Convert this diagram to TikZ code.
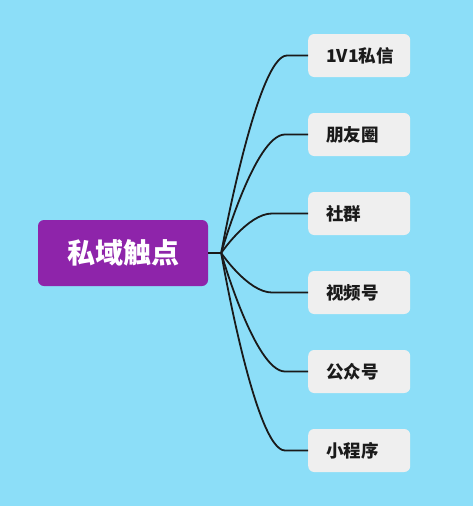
\documentclass[tikz,border=0pt]{standalone}
\usepackage{fontspec}
\setmainfont{Noto Sans CJK SC}
\usetikzlibrary{calc}
\usetikzlibrary{positioning}
\definecolor{himmel}{HTML}{8CDEF8}
\definecolor{lila}{HTML}{8E24AA}
\definecolor{hellgrau}{HTML}{EFEFEF}
\definecolor{tinte}{HTML}{1A1A1A}
\tikzset{
	wurzel/.style = {rectangle, rounded corners=6pt, fill=lila, text=white,
		minimum width=170pt, minimum height=66pt, inner sep=0pt,
		font=\fontsize{28}{32}\selectfont\bfseries},
	kanal/.style = {rectangle, rounded corners=6pt, fill=hellgrau, text=tinte,
		minimum width=102pt, minimum height=43pt, inner xsep=18pt, inner ysep=0pt,
		text width=66pt, align=left, anchor=west,
		font=\fontsize{17.5}{20}\selectfont\bfseries},
	ast/.style = {draw=tinte, line width=1.8pt}
	}

\begin{document}
\begin{tikzpicture}
		[x=1pt, y=-1pt]
		\fill[himmel] (0,0) rectangle (473,506);
		\useasboundingbox (0,0) rectangle (473,506);

		\node[wurzel] (siyu) at (123,253) {私域触点};

		\foreach \i/\y/\txt in {1/55.5/1V1私信, 2/134.5/朋友圈, 3/213.5/社群,
			4/292.5/视频号, 5/371.5/公众号, 6/450.5/小程序}
			\node[kanal] (k\i) at (308,\y) {\txt};

		\coordinate (gabel) at ($(siyu.east)+(13,0)$);
		\draw[ast] (siyu.east) -- (gabel);
		\foreach \i/\d/\c in {1/21/30, 2/23/30, 3/36/24, 4/36/24, 5/23/30, 6/23/30}
			\draw[ast] (gabel) .. controls (gabel) and ($(k\i.west)+(-\d-\c,0)$) .. ($(k\i.west)+(-\d,0)$) -- (k\i.west);
	\end{tikzpicture}
\end{document}
